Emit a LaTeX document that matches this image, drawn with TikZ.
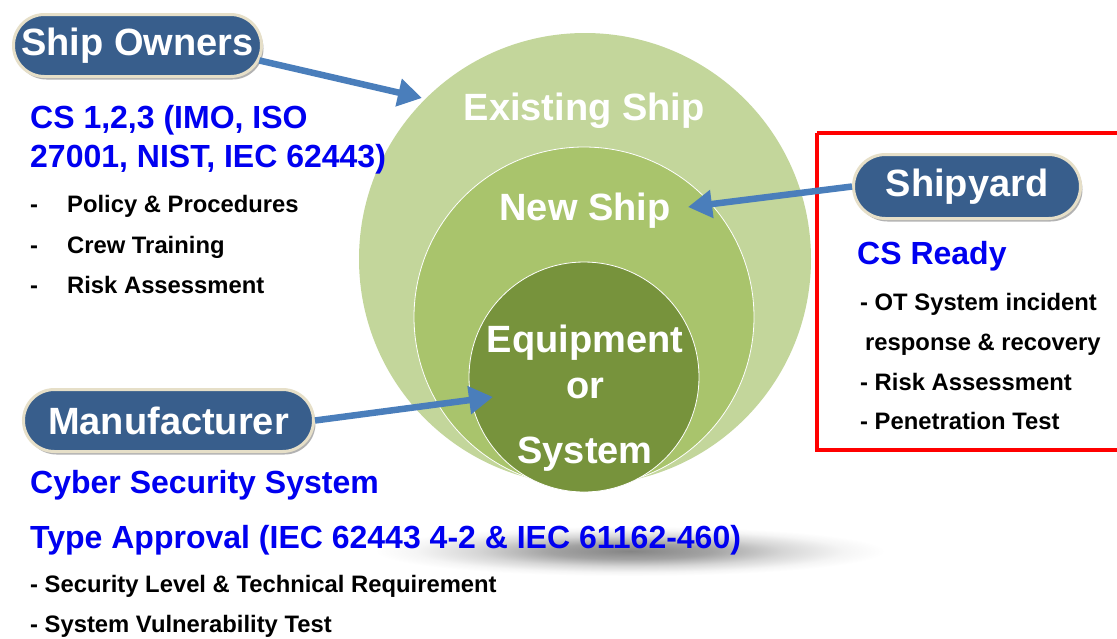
\documentclass[tikz,border=0pt]{standalone}
\usepackage{fontspec}
\setmainfont{Liberation Sans}
\usetikzlibrary{arrows.meta,shapes.misc,shadows}

\definecolor{ringouter}{HTML}{C3D69B}
\definecolor{ringmiddle}{HTML}{A9C46C}
\definecolor{ringinner}{HTML}{77933C}
\definecolor{pillblue}{HTML}{385E8C}
\definecolor{pillrim}{HTML}{E6DFC8}
\definecolor{arrowblue}{HTML}{4A7EBB}
\definecolor{headblue}{RGB}{0,0,240}
\definecolor{framered}{RGB}{255,0,0}

% radial fade: the path's bounding box spans -25bp..25bp
\pgfdeclareradialshading{groundshadow}{\pgfpoint{0bp}{0bp}}{%
  color(0bp)=(black!48); color(8bp)=(black!36); color(15bp)=(black!16);
  color(21bp)=(black!4); color(25bp)=(white); color(50bp)=(white)}

\newcommand{\fsz}[1]{\fontsize{#1}{#1}\selectfont}

\begin{document}
\begin{tikzpicture}[x=1pt,y=-1pt,
  ring/.style={circle, inner sep=0pt},
  ringlabel/.style={anchor=base, inner sep=0pt, text=white, font=\bfseries\fsz{38}},
  pill/.style={rounded rectangle, fill=pillblue, draw=pillrim, line width=3pt,
    text=white, font=\bfseries\fsz{38}, inner sep=0pt,
    drop shadow={shadow xshift=2pt, shadow yshift=-3pt, opacity=0.3, fill=black}},
  arr/.style={draw=arrowblue, line width=6.5pt, -{Triangle[length=24pt,width=27pt]}},
  headtext/.style={anchor=base west, inner sep=0pt, text=headblue, font=\bfseries\fsz{32}},
  itemtext/.style={anchor=base west, inner sep=0pt, text=black, font=\bfseries\fsz{23.8}}]

\useasboundingbox (0,0) rectangle (1117,638);
\fill[white] (0,0) rectangle (1117,638);

% soft shadow beneath the rings
\shade[shading=groundshadow] (630,551) ellipse [x radius=255pt, y radius=25pt];

% nested rings
\node[ring, fill=ringouter, minimum size=452pt] (existing) at (585,259) {};
\node[ring, fill=ringmiddle, draw=white, line width=0.8pt, minimum size=340pt] (newship) at (584,317) {};
\node[ring, fill=ringinner, draw=white, line width=0.8pt, minimum size=230pt] (equip) at (584,377) {};

\node[ringlabel] (lexisting) at (584,120) {Existing Ship};
\node[ringlabel] (lnew) at (585,220) {New Ship};
\node[ringlabel] (lequip) at (585,352) {Equipment};
\node[ringlabel] (lor) at (585,398) {or};
\node[ringlabel] (lsystem) at (585,463) {System};

% shipyard frame
\draw[framered, line width=4pt] (817,133) -- (1125,133) (817,133) -- (817,450) -- (1125,450);

% stakeholder pills
\node[pill, minimum width=248pt, minimum height=62pt] (owners) at (137.5,45.5) {Ship Owners};
\node[pill, minimum width=227pt, minimum height=64pt] (shipyard) at (967,186.5) {Shipyard};
\node[pill, minimum width=290pt, minimum height=62pt] (maker) at (168.5,420.5) {Manufacturer};

% arrows into the rings
\coordinate (tipowners) at (422,98);
\coordinate (tipyard) at (688,207);
\coordinate (tipmaker) at (493,397);
\draw[arr] (owners.-7) -- (tipowners);
\draw[arr] (shipyard.west) -- (tipyard);
\draw[arr] (maker.east) -- (tipmaker);

% ship owners
\node[headtext] (o1) at (30,128) {CS 1,2,3 (IMO, ISO};
\node[headtext] (o2) at (30,167) {27001, NIST, IEC 62443)};
\node[itemtext] (o3) at (30,212) {\makebox[37pt][l]{-}Policy \& Procedures};
\node[itemtext] (o4) at (30,253) {\makebox[37pt][l]{-}Crew Training};
\node[itemtext] (o5) at (30,293) {\makebox[37pt][l]{-}Risk Assessment};

% shipyard
\node[headtext] (y1) at (857,264) {CS Ready};
\node[itemtext] (y2) at (860,310) {- OT System incident};
\node[itemtext] (y3) at (865,350) {response \& recovery};
\node[itemtext] (y4) at (860,390) {- Risk Assessment};
\node[itemtext] (y5) at (860,429) {- Penetration Test};

% manufacturer
\node[headtext] (m1) at (30,493) {Cyber Security System};
\node[headtext] (m2) at (30,548) {Type Approval (IEC 62443 4-2 \& IEC 61162-460)};
\node[itemtext] (m3) at (30,592) {- Security Level \& Technical Requirement};
\node[itemtext] (m4) at (30,632) {- System Vulnerability Test};

\end{tikzpicture}
\end{document}
